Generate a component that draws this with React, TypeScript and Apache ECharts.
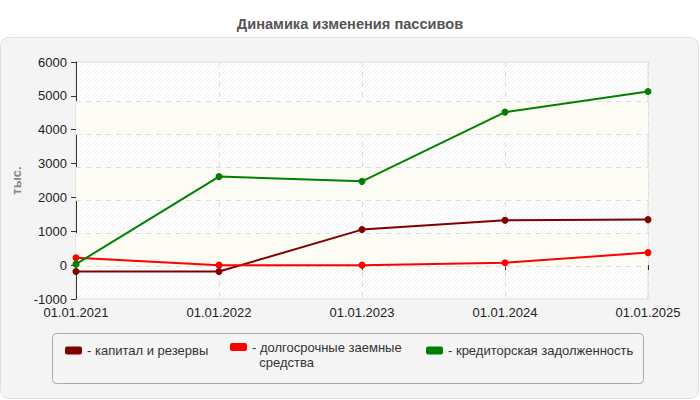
import React, { useEffect, useRef } from "react";
import * as echarts from "echarts";

const categories = ["01.01.2021", "01.01.2022", "01.01.2023", "01.01.2024", "01.01.2025"];
const capitalReserves = [-190, -190, 1050, 1325, 1345];
const longTermLoans = [220, 0, 0, 70, 370];
const payables = [30, 2615, 2475, 4520, 5130];

const seriesNames = ["капитал и резервы", "долгосрочные заемные средства", "кредиторская задолженность"];
const seriesColors = ["#800000", "#ff0000", "#008000"];

// Grid lines of the original plot sit slightly off the tick marks
const gridLineValues = [4839, 3859, 2883, 1906, 929, -47];
const bandPairs = [[4839, 3859], [2883, 1906], [929, -47]];

const hatch =
  "data:image/svg+xml;utf8," +
  encodeURIComponent(
    "<svg xmlns='http://www.w3.org/2000/svg' width='4' height='4'><rect width='4' height='4' fill='#ffffff'/><path d='M0 4L4 0M-1 1L1 -1M3 5L5 3' stroke='#f0f0f0' stroke-width='1'/></svg>"
  );

export default function App() {
  const ref = useRef<HTMLDivElement>(null);
  useEffect(() => {
    if (!ref.current) return;
    const chart = echarts.init(ref.current, null, { renderer: "svg" });
    const font = "Liberation Sans, Arial, sans-serif";
    const lineSeries = (i: number, data: number[]) => ({
      name: seriesNames[i],
      type: "line",
      data,
      symbol: "circle",
      symbolSize: 7,
      color: seriesColors[i],
      lineStyle: { width: 2, color: seriesColors[i] },
      itemStyle: { color: seriesColors[i] },
      z: 3,
    });
    const s0: any = lineSeries(0, capitalReserves);
    s0.markArea = {
      silent: true,
      z: 1,
      itemStyle: { color: "#fcfcf5" },
      data: bandPairs.map((p) => [{ yAxis: p[0] }, { yAxis: p[1] }]),
    };
    s0.markLine = {
      silent: true,
      z: 1,
      symbol: "none",
      label: { show: false },
      lineStyle: { type: [5, 5], color: "#dcdcdc", width: 1 },
      data: gridLineValues.map((v) => ({ yAxis: v })),
    };
    const legendBase = {
      top: 343,
      itemWidth: 17,
      itemHeight: 8,
      icon: "roundRect",
      padding: 0,
      selectedMode: false,
      textStyle: { fontSize: 13, color: "#333", fontFamily: font, lineHeight: 15 },
    };
    chart.setOption({
      animation: false,
      textStyle: { fontFamily: font },
      title: {
        text: "Динамика изменения пассивов",
        left: "center",
        top: 11,
        textStyle: { fontSize: 14.6, fontWeight: "bold", color: "#555", fontFamily: font },
      },
      graphic: [
        {
          type: "rect",
          z: -10,
          shape: { x: 0.5, y: 37.5, width: 698, height: 361, r: 8 },
          style: { fill: "#f4f4f4", stroke: "#e0e0e0", lineWidth: 1 },
        },
        {
          type: "rect",
          z: -9,
          shape: { x: 52.5, y: 333.5, width: 591, height: 50, r: 4 },
          style: { fill: "#f5f5f5", stroke: "#aaaaaa", lineWidth: 1 },
        },
      ],
      legend: [
        { ...legendBase, left: 65, data: [seriesNames[0]], formatter: "- капитал и резервы" },
        {
          ...legendBase,
          left: 230,
          top: 343 - 18.5,
          data: [seriesNames[1]],
          formatter: " \n- долгосрочные заемные\n  средства",
        },
        { ...legendBase, left: 426, data: [seriesNames[2]], formatter: "- кредиторская задолженность" },
      ],
      grid: {
        left: 76,
        right: 52,
        top: 62,
        bottom: 101,
        show: true,
        backgroundColor: { image: hatch, repeat: "repeat", imageWidth: 4, imageHeight: 4 } as any,
        borderColor: "#dddddd",
        borderWidth: 1,
      },
      xAxis: {
        type: "category",
        data: categories,
        boundaryGap: false,
        axisLine: { lineStyle: { color: "#333", width: 1 } },
        axisTick: { show: true, length: 5, lineStyle: { color: "#333" }, alignWithLabel: true },
        axisLabel: { fontSize: 13, color: "#222", margin: 7, fontFamily: font },
        splitLine: { show: true, lineStyle: { type: [5, 5], color: "#dcdcdc" } },
      },
      yAxis: {
        type: "value",
        min: -1000,
        max: 6000,
        interval: 1000,
        name: "тыс.",
        nameLocation: "middle",
        nameGap: 50,
        nameTextStyle: { fontSize: 13, fontWeight: "bold", color: "#888", fontFamily: font },
        axisLine: { show: true, lineStyle: { color: "#333", width: 1 } },
        axisTick: { show: true, length: 5, lineStyle: { color: "#333" } },
        axisLabel: {
          fontSize: 13,
          color: "#222",
          margin: 9,
          fontFamily: font,
          formatter: (v: number) => String(v),
        },
        splitLine: { show: false },
      },
      series: [s0, lineSeries(1, longTermLoans), lineSeries(2, payables)],
    });
    return () => chart.dispose();
  }, []);
  return (
    <div
      ref={ref}
      style={{ position: "fixed", left: 0, top: 0, width: 700, height: 400, background: "#fff" }}
    />
  );
}
